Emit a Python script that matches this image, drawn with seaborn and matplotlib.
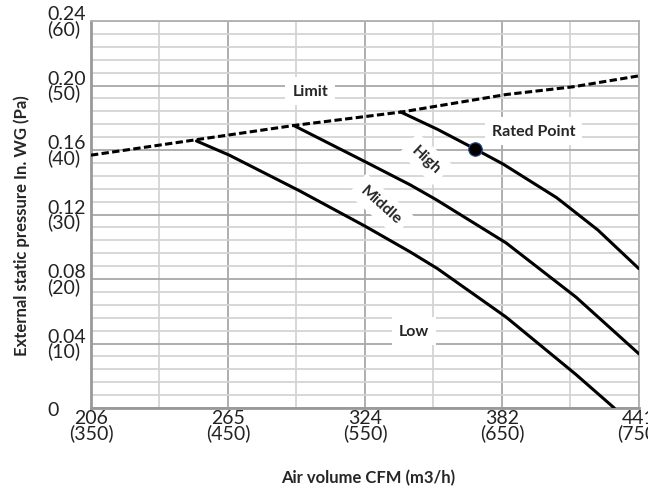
import matplotlib
matplotlib.use('Agg')
import matplotlib.pyplot as plt
import seaborn as sns
from matplotlib.ticker import MultipleLocator, FixedLocator

# fan curve data, air volume in m3/h, pressure in Pa
limit_x = [350, 427, 498, 577, 653, 702, 750]
limit_y = [39.2, 41.6, 43.8, 45.9, 48.6, 49.8, 51.5]

high_x = [576, 603, 630, 651, 690, 720, 750]
high_y = [45.9, 43.2, 40.2, 37.8, 32.6, 27.6, 21.6]

middle_x = [498, 550, 583, 602, 653, 704, 750]
middle_y = [43.8, 38.2, 34.6, 32.3, 25.6, 17.2, 8.4]

low_x = [427, 451, 502, 550, 583, 603, 653, 704, 732]
low_y = [41.4, 39.2, 33.7, 28.2, 24.2, 21.6, 14.1, 5.2, 0.0]

rated_x = [630]
rated_y = [40.2]

x_ticks = [350, 450, 550, 650, 750]
x_labels = ["206\n(350)", "265\n(450)", "324\n(550)", "382\n(650)", "441\n(750)"]
y_ticks = [0, 10, 20, 30, 40, 50, 60]
y_labels = ["0", "0.04\n(10)", "0.08\n(20)", "0.12\n(30)", "0.16\n(40)", "0.20\n(50)", "0.24\n(60)"]


def graph_plot():
    sns.set_style("white")
    plt.rcParams['font.family'] = ['Lato', 'DejaVu Sans']

    fig = plt.figure(figsize=(6.48, 4.89), dpi=100)
    ax = fig.add_axes([0.1404, 0.1636, 0.8456, 0.7914])

    ax.set_xlim(350, 750)
    ax.set_ylim(0, 60)

    # grid like the excel original: light minor lines, darker majors
    ax.xaxis.set_major_locator(FixedLocator(x_ticks))
    ax.yaxis.set_major_locator(FixedLocator(y_ticks))
    ax.xaxis.set_minor_locator(MultipleLocator(50))
    ax.yaxis.set_minor_locator(MultipleLocator(2))
    ax.grid(which='minor', color='#d4d4d4', lw=1.3)
    ax.grid(which='major', color='#a8a8a8', lw=1.3)
    ax.set_axisbelow(True)
    for s in ax.spines.values():
        s.set_color('#b0b0b0')
        s.set_linewidth(1.3)
    ax.spines['left'].set_color('#999999')
    ax.spines['left'].set_linewidth(2)
    ax.spines['bottom'].set_color('#999999')
    ax.spines['bottom'].set_linewidth(2)

    ax.set_xticklabels(x_labels, fontsize=14, linespacing=0.78, color='#222222')
    ax.set_yticklabels(y_labels, fontsize=14, linespacing=0.78, color='#222222',
                       ha='left')
    ax.tick_params(axis='both', which='both', length=0)
    ax.tick_params(axis='x', pad=1)
    ax.tick_params(axis='y', pad=31.5)

    # curves
    sns.lineplot(x=limit_x, y=limit_y, color='black', lw=2.2, ax=ax, zorder=3,
                 linestyle=(0, (2.4, 1.1)))
    for xs, ys in [(high_x, high_y), (middle_x, middle_y), (low_x, low_y)]:
        sns.lineplot(x=xs, y=ys, color='black', lw=2.2, ax=ax, zorder=3, sort=False)
    ax.scatter(rated_x, rated_y, s=95, color='black', edgecolor='#2a4a8a',
               linewidth=0.8, zorder=4)

    box = dict(facecolor='white', edgecolor='none', pad=5)
    ax.text(510, 49.1, "Limit", fontsize=11.5, fontweight='bold', ha='center',
            va='center', bbox=box, zorder=2.5)
    ax.text(673, 42.9, "Rated Point", fontsize=11.5, fontweight='bold', ha='center',
            va='center', bbox=box, zorder=2.5)
    ax.text(594.5, 38.6, "High", fontsize=11.5, fontweight='bold', ha='center',
            va='center', rotation=-43, bbox=box, zorder=2.5)
    ax.text(561.5, 31.5, "Middle", fontsize=11.5, fontweight='bold', ha='center',
            va='center', rotation=-42, bbox=box, zorder=2.5)
    ax.text(586, 11.9, "Low", fontsize=11.5, fontweight='bold', ha='center',
            va='center', bbox=box, zorder=2.5)

    fig.text(22 / 648, 1 - 226 / 489, "External static pressure In. WG (Pa)",
             rotation=90, fontsize=12, fontweight='bold', ha='center', va='center')
    fig.text(368 / 648, 1 - 478 / 489, "Air volume CFM (m3/h)",
             fontsize=12, fontweight='bold', ha='center', va='center')

    plt.savefig("out.png", dpi=100)


if __name__ == '__main__':
    graph_plot()
